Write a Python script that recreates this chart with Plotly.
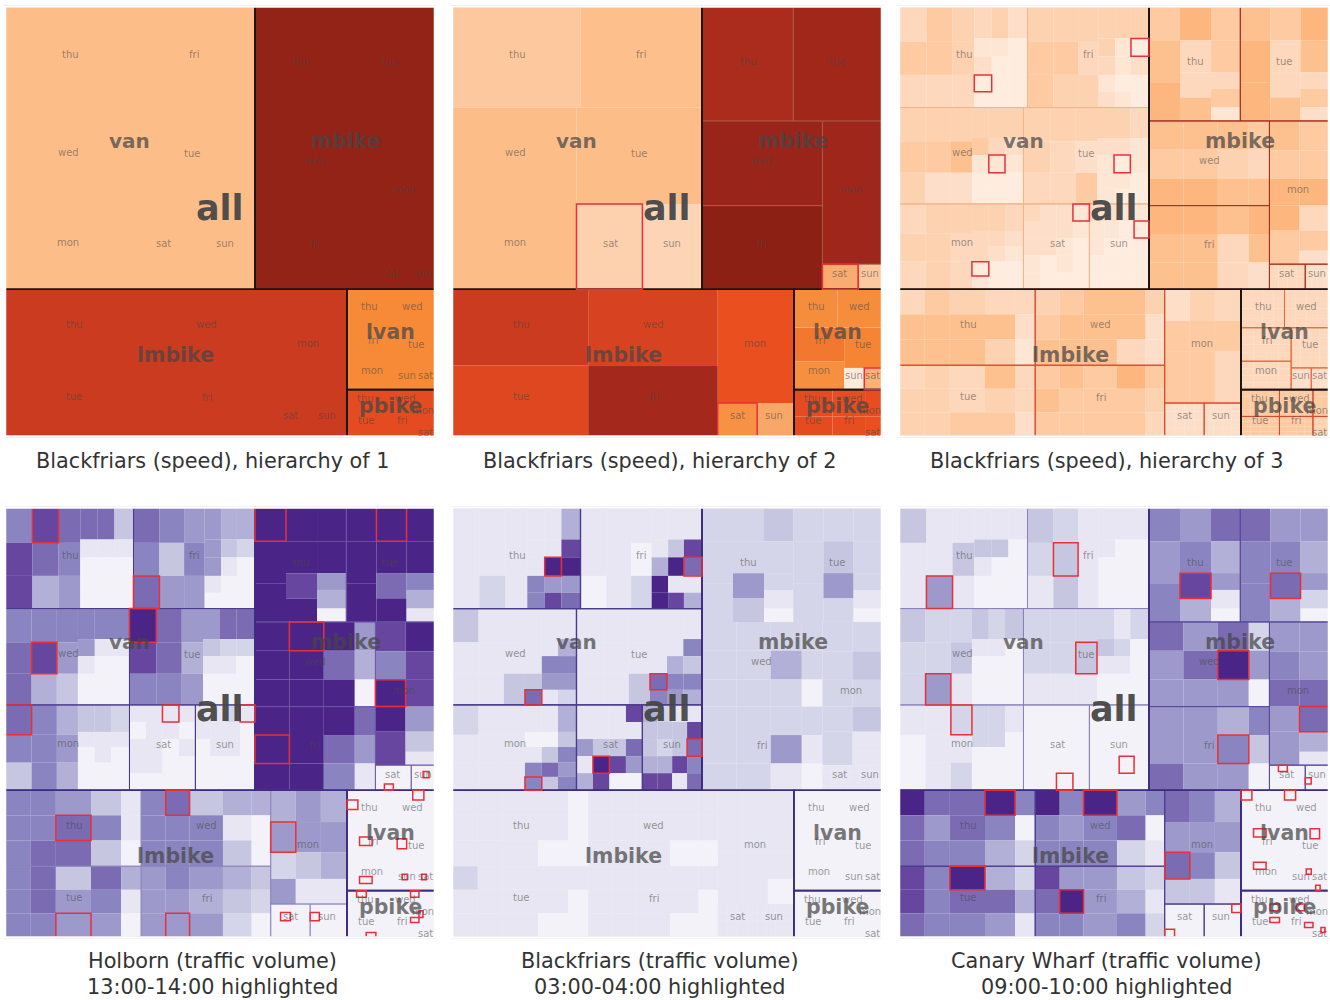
import plotly.graph_objects as go

# ---------- names ----------
VAN_DAYS = ["thu", "fri", "wed", "tue", "mon", "sat", "sun"]
MBIKE_DAYS = ["thu", "tue", "wed", "fri", "mon", "sat", "sun"]
LMBIKE_DAYS = ["thu", "wed", "tue", "fri", "mon", "sat", "sun"]
LVAN_DAYS = ["thu", "wed", "fri", "mon", "tue", "sun", "sat"]
PBIKE_DAYS = ["thu", "tue", "wed", "fri", "mon", "sat"]

# ---------- size of each day (traffic count, arbitrary units) ----------
VAN_SIZE = [115968, 109626, 107136, 108000, 94860, 50235, 45390]
MBIKE_SIZE = [93366, 90630, 91080, 90000, 76184, 8025, 5325]
LMBIKE_SIZE = [92389, 87849, 86691, 82431, 77520, 11800, 11000]
LVAN_SIZE = [14950, 15295, 15000, 12750, 13560, 3900, 3445]
PBIKE_SIZE = [9200, 6900, 8000, 6000, 3840, 2880]

# ---------- speed levels, panel 1 (per mode) and panel 2 (per day) ----------
P1_LEVEL = {"van": 4.0, "mbike": 9.7, "lmbike": 8.0, "lvan": 6.0, "pbike": 7.2}
P2_VAN = [3.4, 3.9, 4.0, 4.0, 4.0, 2.9, 2.6]
P2_MBIKE = [8.9, 9.2, 9.5, 9.9, 9.3, 4.7, 3.4]
P2_LMBIKE = [8.0, 7.6, 7.4, 9.1, 7.0, 5.7, 4.9]
P2_LVAN = [5.9, 5.9, 6.3, 5.8, 6.1, 1.0, 4.5]
P2_PBIKE = [7.2, 7.2, 7.1, 7.1, 7.1, 7.0]

# ---------- hour shades per day (one digit per hour block, column by column) ----------
P3_VAN = ["353 553 443 31200 41000 20000", "455 454 434 44312 41101 40200",
          "454 452 462 45100 43100 42100", "443 433 425 42111 42010 31100",
          "343 444 433 43301 43200 32100",
          "32211 22200 22110 11000", "21100 21000 10000 10000"]
P3_MBIKE = ["567 7336 55351", "677 5336 76352", "657 657 646 536", "766 766 633 762",
            "65775 557352", "3", "2"]
P3_LMBIKE = ["366 566 466 364 321", "456 566 666 663 422", "344 444 335 645 332",
             "565 655 555 755 543", "2555 4555 3533", "2", "2"]
P3_LVAN = ["3", "3", "3", "3", "3", "2", "2"]
P3_PBIKE = ["5", "5", "5", "5", "5", "4"]

P4_VAN = ["688 874 765 71000 71000 31000", "767 635 565 55510 43100 42000",
          "677 684 653 65100 61000 61000", "986 776 545 53100 72100 72000",
          "763 666 454 31000 31100 21000",
          "10110 11110 11000 10100", "11000 11100 21100 10000"]
P4_MBIKE = ["999 9989 99540", "999 9979 99641", "999 999 979 540", "999 999 976 751",
            "86998 988531", "0", "0"]
P4_LMBIKE = ["666 667 577 363 110", "666 766 366 413 400", "666 776 355 765 410",
             "555 655 545 432 320", "4525 5531 4541", "0", "0"]
P4_LVAN = ["0", "0", "0", "0", "0", "0", "0"]
P4_PBIKE = ["0", "0", "0", "0", "0", "0"]

P5_VAN = ["111 112 111 11166 11958 48957", "110 111 102 11499 13918 18714",
          "311 111 113 11137 11651 14652", "111 111 113 11176 11465 16364",
          "211 111 111 10166 10373 43656",
          "11514 11398 11380 81750", "43348 23248 13381 18767"]
P5_MBIKE = ["222 2253 32210", "222 2352 22210", "222 222 242 220", "222 222 251 210",
            "22222 232311", "1", "1"]
P5_LMBIKE = ["111 111 111 110 000", "111 111 111 110 110", "211 111 111 110 100",
             "111 111 111 110 100", "1111 1111 1110", "1", "1"]
P5_LVAN = ["0", "0", "0", "0", "0", "0", "0"]
P5_PBIKE = ["0", "0", "0", "0", "0", "0"]

P6_VAN = ["311 115 131 13100 13000 10000", "321 233 111 11000 10000 10000",
          "322 225 231 31000 21000 30000", "221 221 231 23100 12100 20000",
          "100 111 212 22000 22000 10000",
          "00000 00000 00000 00000", "00000 00000 00000 00000"]
P6_MBIKE = ["656 5684 74510", "766 5674 54520", "755 575 795 250", "557 555 465 630",
            "56755 557741", "0", "0"]
P6_LMBIKE = ["977 756 776 964 602", "966 656 966 572 601", "887 666 976 475 241",
             "876 596 555 346 212", "7573 6563 4531", "0", "0"]
P6_LVAN = ["0", "0", "0", "0", "0", "0", "0"]
P6_PBIKE = ["0", "0", "0", "0", "0", "0"]

# ---------- highlighted blocks: mode, day, column, row ----------
P2_MARK = [("van", "sat"), ("mbike", "sat"), ("lmbike", "sat"), ("lvan", "sat")]
P3_MARK = [("van", "thu", 3, 3), ("van", "fri", 5, 1), ("van", "wed", 4, 2), ("van", "tue", 4, 2),
           ("van", "mon", 3, 3), ("van", "sat", 3, 0), ("van", "sun", 3, 1)]
P4_MARK = [("van", "thu", 1, 0), ("van", "fri", 0, 2), ("van", "wed", 1, 1), ("van", "tue", 0, 0),
           ("van", "mon", 0, 0), ("van", "sat", 2, 0), ("van", "sun", 3, 0),
           ("mbike", "thu", 0, 0), ("mbike", "tue", 1, 0), ("mbike", "wed", 1, 0), ("mbike", "fri", 0, 1),
           ("mbike", "mon", 0, 2), ("mbike", "sat", 1, 3), ("mbike", "sun", 2, 1),
           ("lmbike", "thu", 2, 1), ("lmbike", "wed", 1, 0), ("lmbike", "tue", 2, 2), ("lmbike", "fri", 1, 2),
           ("lmbike", "mon", 0, 1), ("lmbike", "sat", 1, 1), ("lmbike", "sun", 0, 1),
           ("lvan", "thu", 0, 1), ("lvan", "wed", 2, 0), ("lvan", "fri", 1, 1), ("lvan", "tue", 0, 1),
           ("lvan", "mon", 1, 2), ("lvan", "sun", 1, 1), ("lvan", "sat", 1, 1),
           ("pbike", "thu", 1, 0), ("pbike", "wed", 3, 0), ("pbike", "tue", 2, 3), ("pbike", "fri", 3, 0),
           ("pbike", "mon", 0, 3)]
P5_MARK = [("van", "thu", 4, 2), ("van", "fri", 5, 2), ("van", "wed", 3, 4), ("van", "tue", 3, 3),
           ("van", "mon", 3, 4), ("van", "sat", 1, 3), ("van", "sun", 3, 2)]
P6_MARK = [("van", "thu", 1, 2), ("van", "fri", 1, 1), ("van", "wed", 1, 2), ("van", "tue", 2, 1),
           ("van", "mon", 2, 0), ("van", "sat", 2, 4), ("van", "sun", 2, 3),
           ("mbike", "thu", 1, 2), ("mbike", "tue", 1, 2), ("mbike", "wed", 2, 1), ("mbike", "fri", 2, 1),
           ("mbike", "mon", 1, 3), ("mbike", "sat", 1, 0), ("mbike", "sun", 0, 2),
           ("lmbike", "thu", 3, 0), ("lmbike", "wed", 2, 0), ("lmbike", "tue", 2, 0), ("lmbike", "fri", 1, 1),
           ("lmbike", "mon", 0, 2), ("lmbike", "sat", 0, 3), ("lmbike", "sun", 3, 0),
           ("lvan", "thu", 0, 0), ("lvan", "wed", 0, 0), ("lvan", "fri", 1, 0), ("lvan", "tue", 2, 0),
           ("lvan", "mon", 1, 0), ("lvan", "sun", 3, 0), ("lvan", "sat", 1, 3),
           ("pbike", "thu", 3, 2), ("pbike", "wed", 2, 2), ("pbike", "tue", 3, 0), ("pbike", "fri", 3, 1),
           ("pbike", "sat", 2, 2)]

CAPTIONS = [["Blackfriars (speed), hierarchy of 1"], ["Blackfriars (speed), hierarchy of 2"],
            ["Blackfriars (speed), hierarchy of 3"],
            ["Holborn (traffic volume)", "13:00-14:00 highlighted"],
            ["Blackfriars (traffic volume)", "03:00-04:00 highlighted"],
            ["Canary Wharf (traffic volume)", "09:00-10:00 highlighted"]]

# ---------- styling and layout ----------
ORANGE = ["#fff5ee", "#feeadb", "#fddcc4", "#fdd0ac", "#fdbd88", "#f9a566",
          "#f68a37", "#ea4f20", "#cb3b20", "#a8291d", "#8a1f14"]
PURPLE = ["#f3f2f9", "#e7e6f2", "#d5d5e9", "#c6c6e0", "#b2b0d6", "#9d9acb",
          "#8a85c0", "#7a6bb3", "#6746a0", "#4a2587"]
OR_SCALE = [[i / 10, c] for i, c in enumerate(ORANGE)]
PU_SCALE = [[i / 9, c] for i, c in enumerate(PURPLE)]

T_A = ([82, 78, 65, 52, 50, 57], [[105, 98, 97]] * 3 + [[95, 53, 55, 50, 47]] * 3)
T_S = ([1, 1, 1, 1], [[1, 1, 1, 1, 1]] * 4)
T_B = ([90, 90, 85], [[100, 125, 115], [100, 95, 75, 70], [100, 95, 50, 55, 40]])
T_C = ([100, 100, 90, 60], [[85, 85, 80]] * 4)
T_D = ([90, 88], [[88, 85, 80, 75, 100], [88, 85, 80, 75, 60, 40]])
T_E = ([77, 75, 105, 90, 60], [[75, 75, 77]] * 5)
T_F = ([75, 75, 78], [[95, 90, 80, 75]] * 3)
T_G = ([1, 1, 1, 1], [[1, 1, 1, 1]] * 4)
TEMPLATES = {
    "van": dict(thu=T_A, fri=T_A, wed=T_A, tue=T_A, mon=T_A, sat=T_S, sun=T_S),
    "mbike": dict(thu=T_B, tue=T_B, wed=T_C, fri=T_C, mon=T_D, sat=T_G, sun=T_G),
    "lmbike": dict(thu=T_E, wed=T_E, tue=T_E, fri=T_E, mon=T_F, sat=T_G, sun=T_G),
    "lvan": {d: T_G for d in LVAN_DAYS},
    "pbike": {d: T_G for d in PBIKE_DAYS},
}
SIZES = {"van": dict(zip(VAN_DAYS, VAN_SIZE)), "mbike": dict(zip(MBIKE_DAYS, MBIKE_SIZE)),
         "lmbike": dict(zip(LMBIKE_DAYS, LMBIKE_SIZE)), "lvan": dict(zip(LVAN_DAYS, LVAN_SIZE)),
         "pbike": dict(zip(PBIKE_DAYS, PBIKE_SIZE))}
DAY_ORDER = {"van": VAN_DAYS, "mbike": MBIKE_DAYS, "lmbike": LMBIKE_DAYS, "lvan": LVAN_DAYS, "pbike": PBIKE_DAYS}


def V(*c):
    return ("v", list(c))


def H(*c):
    return ("h", list(c))


def DAY(m, d):
    return ("day", m, d)


def MODE(m, t):
    return ("mode", m, t)


TREE = V(
    H(MODE("van", V(H(DAY("van", "thu"), DAY("van", "fri")),
                    H(DAY("van", "wed"), DAY("van", "tue")),
                    H(DAY("van", "mon"), DAY("van", "sat"), DAY("van", "sun")))),
      MODE("mbike", V(H(DAY("mbike", "thu"), DAY("mbike", "tue")),
                      H(V(DAY("mbike", "wed"), DAY("mbike", "fri")),
                        V(DAY("mbike", "mon"), H(DAY("mbike", "sat"), DAY("mbike", "sun"))))))),
    H(MODE("lmbike", H(V(H(DAY("lmbike", "thu"), DAY("lmbike", "wed")),
                         H(DAY("lmbike", "tue"), DAY("lmbike", "fri"))),
                       V(DAY("lmbike", "mon"), H(DAY("lmbike", "sat"), DAY("lmbike", "sun"))))),
      V(MODE("lvan", V(H(DAY("lvan", "thu"), DAY("lvan", "wed")),
                       H(V(DAY("lvan", "fri"), DAY("lvan", "mon")),
                         V(DAY("lvan", "tue"), H(DAY("lvan", "sun"), DAY("lvan", "sat")))))),
        MODE("pbike", H(V(DAY("pbike", "thu"), DAY("pbike", "tue")),
                        V(DAY("pbike", "wed"), DAY("pbike", "fri")),
                        V(DAY("pbike", "mon"), DAY("pbike", "sat")))))))


def flatten(cut):
    """cut: 'mode', 'day' or 'hour'. Returns rows: id, parent, value, tag."""
    rows = []
    count = [0]

    def new_id():
        count[0] += 1
        return "n%d" % count[0]

    def subtotal(node):
        if node[0] == "day":
            return SIZES[node[1]][node[2]]
        if node[0] == "mode":
            return subtotal(node[2])
        return sum(subtotal(c) for c in node[1])

    def want(depth):
        return "v" if depth % 2 == 0 else "h"

    def emit_split(split, children, pid, depth, tag):
        if split != want(depth):
            p = new_id()
            rows.append((p, pid, 0, None))
            pid, depth = p, depth + 1
        me = new_id()
        rows.append((me, pid, 0, tag))
        for c in children:
            emit(c, me, depth + 1)
        return me

    def emit(node, pid, depth):
        kind = node[0]
        if kind == "mode":
            if cut == "mode":
                rows.append((new_id(), pid, subtotal(node), ("mode", node[1])))
                return
            emit_split(node[2][0], node[2][1], pid, depth, ("mode", node[1]))
        elif kind == "day":
            m, d = node[1], node[2]
            if cut == "day":
                rows.append((new_id(), pid, SIZES[m][d], ("day", m, d)))
                return
            widths, cols = TEMPLATES[m][d]
            w_tot = sum(widths)
            size = SIZES[m][d]
            col_nodes = []
            for ci, (w, hs) in enumerate(zip(widths, cols)):
                h_tot = sum(hs)
                col_nodes.append(("col", m, d, ci, [size * w / w_tot * h / h_tot for h in hs]))
            emit_split("h", col_nodes, pid, depth, ("day", m, d))
        elif kind == "col":
            m, d, ci, vals = node[1], node[2], node[3], node[4]
            p = pid
            if want(depth) != "v":
                p = new_id()
                rows.append((p, pid, 0, None))
            me = new_id()
            rows.append((me, p, 0, None))
            for ri, val in enumerate(vals):
                rows.append((new_id(), me, val, ("hour", m, d, ci, ri)))
        else:
            emit_split(kind, node[1], pid, depth, None)

    rows.append(("root", "", 0, None))
    for c in TREE[1]:
        emit(c, "root", 1)
    return rows


ROWS = {c: flatten(c) for c in ("mode", "day", "hour")}
CLEAR = "rgba(0,0,0,0)"

PX = [6, 453, 900]
PY = [7.5, 508.5]
SIDE = 428
BLEED = 1


def shades(strings_by_mode):
    out = {}
    for m, lst in strings_by_mode.items():
        for d, s in zip(DAY_ORDER[m], lst):
            s2 = s.replace(" ", "")
            widths, cols = TEMPLATES[m][d]
            grid, k = {}, 0
            for ci, hs in enumerate(cols):
                for ri in range(len(hs)):
                    grid[(ci, ri)] = int(s2[0] if len(s2) == 1 else s2[k])
                    k += 1
            out[(m, d)] = grid
    return out


SH3 = shades(dict(van=P3_VAN, mbike=P3_MBIKE, lmbike=P3_LMBIKE, lvan=P3_LVAN, pbike=P3_PBIKE))
SH4 = shades(dict(van=P4_VAN, mbike=P4_MBIKE, lmbike=P4_LMBIKE, lvan=P4_LVAN, pbike=P4_PBIKE))
SH5 = shades(dict(van=P5_VAN, mbike=P5_MBIKE, lmbike=P5_LMBIKE, lvan=P5_LVAN, pbike=P5_PBIKE))
SH6 = shades(dict(van=P6_VAN, mbike=P6_MBIKE, lmbike=P6_LMBIKE, lvan=P6_LVAN, pbike=P6_PBIKE))
P2_LEVEL = {}
for m_, days_, vals_ in [("van", VAN_DAYS, P2_VAN), ("mbike", MBIKE_DAYS, P2_MBIKE), ("lmbike", LMBIKE_DAYS, P2_LMBIKE),
                         ("lvan", LVAN_DAYS, P2_LVAN), ("pbike", PBIKE_DAYS, P2_PBIKE)]:
    for d_, v_ in zip(days_, vals_):
        P2_LEVEL[(m_, d_)] = v_

DARK = "#1c1410"
INDIGO = "#3f2c80"
PANELS = [
    dict(cut="mode", level=lambda t: P1_LEVEL[t[1]], scale=OR_SCALE, cmax=10, mode_line=DARK, marks=[],
         day_line={}),
    dict(cut="day", level=lambda t: P2_LEVEL[(t[1], t[2])], scale=OR_SCALE, cmax=10, mode_line=DARK, marks=P2_MARK,
         day_line={"mbike": ("rgba(170,90,70,0.7)", 1)}),
    dict(cut="hour", level=lambda t: 0.8 + SH3[(t[1], t[2])][(t[3], t[4])] * 0.5, scale=OR_SCALE, cmax=10,
         mode_line=DARK, marks=P3_MARK,
         day_line={"van": ("#f3b48b", 1), "mbike": ("#a3331f", 1), "lmbike": ("#d9482e", 1),
                   "lvan": ("#e76a3a", 1), "pbike": ("#d9482e", 1)}),
    dict(cut="hour", level=lambda t: SH4[(t[1], t[2])][(t[3], t[4])], scale=PU_SCALE, cmax=9, mode_line=INDIGO,
         marks=P4_MARK,
         day_line={"van": ("#4a3a8c", 1), "mbike": ("#6a55a5", 0.8), "lmbike": ("#8a82ba", 0.8)}),
    dict(cut="hour", level=lambda t: SH5[(t[1], t[2])][(t[3], t[4])], scale=PU_SCALE, cmax=9, mode_line=INDIGO,
         marks=P5_MARK, day_line={"van": ("#4a3a8c", 1.2)}),
    dict(cut="hour", level=lambda t: SH6[(t[1], t[2])][(t[3], t[4])], scale=PU_SCALE, cmax=9, mode_line=INDIGO,
         marks=P6_MARK,
         day_line={"van": ("#8a82b8", 1), "mbike": ("#5a4a9a", 1), "lmbike": ("#4a3a8c", 1)}),
]

TOTAL_W, TOTAL_H = 1330, 1000
fig = go.Figure()


def domain(i):
    x0 = PX[i % 3] - BLEED
    y0 = PY[i // 3] - BLEED
    s = SIDE + 2 * BLEED
    return dict(x=[x0 / TOTAL_W, (x0 + s) / TOTAL_W], y=[1 - (y0 + s) / TOTAL_H, 1 - y0 / TOTAL_H])


def add_tm(rows, dom, colors, widths, linecolors, scale=None, cmax=None):
    marker = dict(colors=colors, line=dict(width=widths, color=linecolors),
                  pad=dict(t=0, l=0, r=0, b=0), depthfade=False)
    if scale:
        marker.update(colorscale=scale, cmin=0, cmax=cmax, showscale=False)
    fig.add_treemap(ids=[r[0] for r in rows], parents=[r[1] for r in rows], labels=[r[0] for r in rows],
                    values=[r[2] for r in rows], branchvalues="remainder", sort=False, domain=dom,
                    textinfo="none", hoverinfo="skip", pathbar=dict(visible=False),
                    tiling=dict(packing="dice-slice", pad=0), marker=marker)


frames = []
for i, p in enumerate(PANELS):
    dom = domain(i)
    rows = ROWS[p["cut"]]
    # cells
    cols = [p["level"](r[3]) if r[3] and r[3][0] == p["cut"] else 0 for r in rows]
    add_tm(rows, dom, cols, [0] * len(rows), [CLEAR] * len(rows), p["scale"], p["cmax"])
    # day borders
    rows = ROWS["day"]
    w, c = [], []
    for r in rows:
        st = p["day_line"].get(r[3][1]) if r[3] and r[3][0] == "day" else None
        w.append(st[1] if st else 0)
        c.append(st[0] if st else CLEAR)
    add_tm(rows, dom, [CLEAR] * len(rows), w, c)
    # mode borders
    rows = ROWS["mode"]
    add_tm(rows, dom, [CLEAR] * len(rows), [1.7 if r[3] else 0 for r in rows],
           [p["mode_line"] if r[3] else CLEAR for r in rows])
    # highlighted blocks
    rows = ROWS[p["cut"]]
    marks = set(p["marks"])
    hit = [bool(r[3]) and r[3][0] == p["cut"] and tuple(r[3][1:]) in marks for r in rows]
    add_tm(rows, dom, [CLEAR] * len(rows), [1.5 if h else 0 for h in hit],
           ["#e8303a" if h else CLEAR for h in hit])
    # white mat: the outer edge of each panel carries no border in the original
    frames.append(dict(type="rect", xref="paper", yref="paper", layer="above",
                       x0=dom["x"][0], x1=dom["x"][1], y0=dom["y"][0], y1=dom["y"][1],
                       line=dict(color="white", width=2.5), fillcolor=CLEAR))

# ---------- text ----------
BIG = [("all", 660, 610, 35), ("van", 388, 410, 20), ("mbike", 1037, 410, 20.5), ("lmbike", 528, 1052, 20.5),
       ("lvan", 1172, 982, 20.5), ("pbike", 1172, 1205, 20.5)]
SMALL = [("thu", 210, 152), ("fri", 581, 152), ("wed", 205, 445), ("tue", 576, 447), ("mon", 205, 716),
         ("sat", 490, 718), ("sun", 675, 718),
         ("thu", 903, 172), ("tue", 1170, 172), ("wed", 945, 470), ("mon", 1213, 557), ("fri", 945, 720),
         ("sat", 1178, 808), ("sun", 1268, 808),
         ("thu", 222, 960), ("wed", 620, 960), ("mon", 925, 1018), ("tue", 222, 1178), ("fri", 620, 1180),
         ("sat", 870, 1235), ("sun", 982, 1235),
         ("thu", 1108, 906), ("wed", 1238, 906), ("fri", 1118, 1010), ("tue", 1247, 1022), ("mon", 1116, 1100),
         ("sun", 1222, 1115), ("sat", 1277, 1115),
         ("thu", 1097, 1182), ("wed", 1215, 1182), ("mon", 1270, 1218), ("tue", 1097, 1250), ("fri", 1205, 1250),
         ("sat", 1275, 1285)]
anns = []


def put(txt, x, y, size, color, family="DejaVu Sans"):
    anns.append(dict(text=txt, x=x / TOTAL_W, y=1 - y / TOTAL_H, xref="paper", yref="paper", showarrow=False,
                     xanchor="center", yanchor="middle", font=dict(family=family, size=size, color=color)))


for i in range(6):
    ox, oy = PX[i % 3], PY[i // 3]
    for t, zx, zy, s in BIG:
        col = "rgba(70,70,70,0.95)" if t == "all" else "rgba(70,70,70,0.72)"
        put("<b>%s</b>" % t, ox + (zx - 18) / 3, oy + (zy - 10) / 3, s, col)
    for t, zx, zy in SMALL:
        put(t, ox + (zx - 18) / 3, oy + (zy - 10) / 3, 10, "rgba(70,70,70,0.55)")
    cx = ox + 206.5
    lines = CAPTIONS[i]
    if i < 3:
        put(lines[0], cx, 461, 20.8, "#333333")
    else:
        put(lines[0], cx, 961, 20.8, "#333333")
        put(lines[1], cx, 987, 20.8, "#333333")

fig.update_layout(width=TOTAL_W, height=TOTAL_H, margin=dict(l=0, r=0, t=0, b=0), paper_bgcolor="white",
                  annotations=anns, shapes=frames, showlegend=False)
fig.write_html("out.html", config={"displayModeBar": False}, post_script="document.body.style.margin='0';")
